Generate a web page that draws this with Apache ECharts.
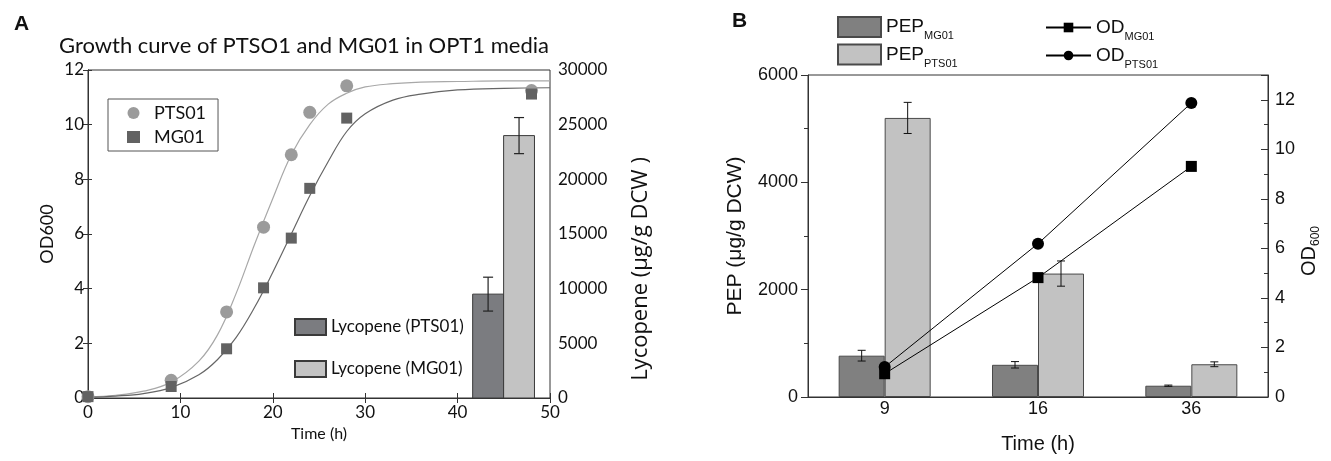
<!DOCTYPE html>
<html><head><meta charset="utf-8">
<script src="https://cdn.jsdelivr.net/npm/echarts@6/dist/echarts.min.js"></script>
<style>html,body{margin:0;padding:0;background:#fff}#c{width:1331px;height:461px}</style>
</head><body><div id="c"></div>
<script>
// ---------- Panel A data ----------
const growthTimes = [0, 9, 15, 19, 22, 24, 28, 48];
const odPTS01 = [0.05, 0.65, 3.15, 6.25, 8.9, 10.45, 11.42, 11.25];
const odMG01 = [0.05, 0.42, 1.8, 4.03, 5.85, 7.67, 10.24, 11.12];
const fitTimes = [0, 3, 6, 9, 12, 14, 16, 18, 20, 22, 24, 26, 28, 30, 33, 36, 40, 45, 50];
const fitPTS01 = [0.04, 0.1, 0.25, 0.58, 1.35, 2.3, 3.8, 5.6, 7.3, 8.9, 10.0, 10.75, 11.15, 11.38, 11.5, 11.56, 11.58, 11.6, 11.6];
const fitMG01 = [0.03, 0.07, 0.16, 0.38, 0.85, 1.4, 2.2, 3.3, 4.6, 6.0, 7.4, 8.65, 9.75, 10.4, 10.9, 11.12, 11.27, 11.33, 11.35];
const lycopeneNames = ['Lycopene (PTS01)', 'Lycopene (MG01)'];
const lycopeneTime = [43.3, 46.65];
const lycopeneValues = [9500, 24000];
const lycopeneErrors = [1550, 1650];

// ---------- Panel B data ----------
const pepTimes = ['9', '16', '36'];
const pepMG01 = [770, 600, 210];
const pepMG01Err = [100, 60, 12];
const pepPTS01 = [5200, 2300, 610];
const pepPTS01Err = [290, 235, 45];
const odBMG01 = [0.94, 4.82, 9.31];
const odBPTS01 = [1.21, 6.19, 11.87];

const FA = 'Lato';
const FB = 'Liberation Sans';
const axisCol = '#333';
const plain = v => String(v);

function pairs(xs, ys) { return xs.map((x, i) => [x, ys[i]]); }

function lycoRender(params, api) {
  const x = api.value(0), y = api.value(1), e = api.value(2);
  const halfW = 1.67;
  const p0 = api.coord([x - halfW, y]);
  const p1 = api.coord([x + halfW, 0]);
  const t = api.coord([x, y + e]);
  const b = api.coord([x, y - e]);
  const col = api.visual('color');
  return { type: 'group', children: [
    { type: 'rect', shape: { x: p0[0], y: p0[1], width: p1[0] - p0[0], height: p1[1] - p0[1] },
      style: { fill: col, stroke: '#3a3a3a', lineWidth: 1 } },
    { type: 'line', shape: { x1: t[0], y1: t[1], x2: b[0], y2: b[1] }, style: { stroke: '#222', lineWidth: 1.2 } },
    { type: 'line', shape: { x1: t[0] - 5, y1: t[1], x2: t[0] + 5, y2: t[1] }, style: { stroke: '#222', lineWidth: 1.2 } },
    { type: 'line', shape: { x1: b[0] - 5, y1: b[1], x2: b[0] + 5, y2: b[1] }, style: { stroke: '#222', lineWidth: 1.2 } }
  ]};
}

function errRender(side) {
  return function (params, api) {
    const i = api.value(0), y = api.value(1), e = api.value(2);
    const band = api.size([1, 0])[0];
    const c = api.coord([i, y]);
    const off = side * band * 0.15;
    const t = api.coord([i, y + e]);
    const b = api.coord([i, y - e]);
    const x = c[0] + off;
    return { type: 'group', children: [
      { type: 'line', shape: { x1: x, y1: t[1], x2: x, y2: b[1] }, style: { stroke: '#111', lineWidth: 1 } },
      { type: 'line', shape: { x1: x - 4, y1: t[1], x2: x + 4, y2: t[1] }, style: { stroke: '#111', lineWidth: 1 } },
      { type: 'line', shape: { x1: x - 4, y1: b[1], x2: x + 4, y2: b[1] }, style: { stroke: '#111', lineWidth: 1 } }
    ]};
  };
}

const chart = echarts.init(document.getElementById('c'), null, { renderer: 'canvas' });
const subRich = { sub: { fontSize: 11, fontFamily: FB, color: '#111', padding: [18, 0, 0, 0], verticalAlign: 'bottom' } };

chart.setOption({
  animation: false,
  backgroundColor: '#fff',
  title: [
    { text: 'A', left: 9, top: 9, textStyle: { fontFamily: FB, fontWeight: 'bold', fontSize: 21, color: '#111' } },
    { text: 'Growth curve of PTSO1 and MG01 in OPT1 media', left: 299, textAlign: 'center', top: 30,
      textStyle: { fontFamily: FA, fontWeight: 'normal', fontSize: 22, color: '#111' } },
    { text: 'B', left: 727, top: 6, textStyle: { fontFamily: FB, fontWeight: 'bold', fontSize: 21, color: '#111' } }
  ],
  grid: [
    { left: 88, right: 781, top: 70, bottom: 63, show: true, borderColor: axisCol, borderWidth: 1 },
    { left: 808, right: 63, top: 75, bottom: 64, show: true, borderColor: axisCol, borderWidth: 1 }
  ],
  legend: [
    { data: ['PTS01', 'MG01'], orient: 'vertical', left: 108, top: 99, padding: [5, 12, 5, 19],
      itemWidth: 13, itemHeight: 12, itemGap: 6, borderColor: '#555', borderWidth: 1,
      textStyle: { fontFamily: FA, fontSize: 18, color: '#111', padding: [0, 0, 0, 9] } },
    { data: lycopeneNames, orient: 'vertical', left: 294, top: 318, padding: 0, icon: 'rect',
      itemWidth: 31, itemHeight: 16, itemGap: 24,
      textStyle: { fontFamily: FA, fontSize: 17, color: '#111' } },
    { data: ['PEP_MG01', 'PEP_PTS01'], orient: 'vertical', left: 837, top: 16, padding: 0, icon: 'rect',
      itemWidth: 43, itemHeight: 20, itemGap: 2,
      formatter: n => n.split('_')[0] + '{sub|' + n.split('_')[1] + '}',
      textStyle: { fontFamily: FB, fontSize: 19, color: '#111', rich: subRich } },
    { data: ['OD_MG01', 'OD_PTS01'], orient: 'vertical', left: 1045, top: 18, padding: 0,
      itemWidth: 45, itemHeight: 12, itemGap: 4,
      formatter: n => n.split('_')[0] + '{sub|' + n.split('_')[1] + '}',
      textStyle: { fontFamily: FB, fontSize: 19, color: '#111', rich: subRich } }
  ],
  xAxis: [
    { type: 'value', gridIndex: 0, min: 0, max: 50, interval: 10,
      name: 'Time (h)', nameLocation: 'middle', nameGap: 27,
      nameTextStyle: { fontFamily: FA, fontSize: 16, color: '#111' },
      axisLine: { lineStyle: { color: axisCol } },
      axisTick: { inside: true, length: 5, lineStyle: { color: axisCol } },
      axisLabel: { fontFamily: FA, fontSize: 17, color: '#111', margin: 6, formatter: plain },
      splitLine: { show: false } },
    { type: 'category', gridIndex: 1, data: pepTimes,
      name: 'Time (h)', nameLocation: 'middle', nameGap: 37,
      nameTextStyle: { fontFamily: FB, fontSize: 20, color: '#111' },
      axisLine: { lineStyle: { color: axisCol } },
      axisTick: { alignWithLabel: true, length: 8, lineStyle: { color: axisCol } },
      axisLabel: { fontFamily: FB, fontSize: 18, color: '#111', margin: 3 } },
    { type: 'category', gridIndex: 1, data: pepTimes, position: 'bottom',
      axisLine: { show: false }, axisLabel: { show: false },
      axisTick: { length: 4, lineStyle: { color: axisCol } } },
    { type: 'value', gridIndex: 0, min: 0, max: 50, interval: 10, position: 'top',
      axisLine: { show: false }, axisLabel: { show: false },
      axisTick: { inside: true, length: 5, lineStyle: { color: axisCol } }, splitLine: { show: false } }
  ],
  yAxis: [
    { type: 'value', gridIndex: 0, min: 0, max: 12, interval: 2,
      name: 'OD600', nameLocation: 'middle', nameGap: 32, nameRotate: 90,
      nameTextStyle: { fontFamily: FA, fontSize: 18, color: '#111' },
      axisLine: { show: true, lineStyle: { color: axisCol } },
      axisTick: { show: true, inside: true, length: 4, lineStyle: { color: axisCol } },
      axisLabel: { fontFamily: FA, fontSize: 17, color: '#111', margin: 4, formatter: plain },
      splitLine: { show: false } },
    { type: 'value', gridIndex: 0, min: 0, max: 30000, interval: 5000, position: 'right',
      name: 'Lycopene (μg/g DCW )', nameLocation: 'middle', nameGap: 80, nameRotate: 90,
      nameTextStyle: { fontFamily: 'Open Sans', fontSize: 22, color: '#111', padding: [0, 70, 0, 0] },
      axisLine: { show: true, lineStyle: { color: axisCol } },
      axisTick: { show: true, inside: true, length: 5, lineStyle: { color: axisCol } },
      axisLabel: { fontFamily: FA, fontSize: 17, color: '#111', margin: 8, formatter: plain },
      splitLine: { show: false } },
    { type: 'value', gridIndex: 1, min: 0, max: 6000, interval: 2000,
      name: 'PEP (μg/g DCW)', nameLocation: 'middle', nameGap: 62, nameRotate: 90,
      nameTextStyle: { fontFamily: FB, fontSize: 21, color: '#111' },
      axisLine: { show: true, lineStyle: { color: axisCol } },
      axisTick: { show: true, length: 7, lineStyle: { color: axisCol } },
      minorTick: { show: true, splitNumber: 2, length: 4, lineStyle: { color: axisCol } },
      axisLabel: { fontFamily: FB, fontSize: 18, color: '#111', margin: 10, formatter: plain },
      splitLine: { show: false } },
    { type: 'value', gridIndex: 1, min: 0, max: 13, interval: 2, position: 'right',
      name: 'OD{sub|600}', nameLocation: 'middle', nameGap: 28, nameRotate: 90,
      nameTextStyle: { fontFamily: FB, fontSize: 20, color: '#111', padding: [0, 30, 0, 0],
        rich: { sub: { fontSize: 12, fontFamily: FB, color: '#111', padding: [14, 0, 0, 0], verticalAlign: 'bottom' } } },
      axisLine: { show: true, lineStyle: { color: axisCol } },
      axisTick: { show: true, inside: true, length: 7, lineStyle: { color: axisCol } },
      minorTick: { show: true, splitNumber: 2, length: 4, lineStyle: { color: axisCol } },
      axisLabel: { fontFamily: FB, fontSize: 18, color: '#111', margin: 7, showMaxLabel: false, formatter: plain },
      splitLine: { show: false } }
  ],
  series: [
    { name: 'PTS01 fit', type: 'line', xAxisIndex: 0, yAxisIndex: 0, data: pairs(fitTimes, fitPTS01),
      smooth: 0.4, showSymbol: false, lineStyle: { color: '#a8a8a8', width: 1.2 }, z: 3, silent: true },
    { name: 'MG01 fit', type: 'line', xAxisIndex: 0, yAxisIndex: 0, data: pairs(fitTimes, fitMG01),
      smooth: 0.4, showSymbol: false, lineStyle: { color: '#666', width: 1.2 }, z: 3, silent: true },
    { name: lycopeneNames[0], type: 'custom', xAxisIndex: 0, yAxisIndex: 1, renderItem: lycoRender,
      itemStyle: { color: '#7b7c80', borderColor: '#3a3a3a', borderWidth: 1 },
      data: [[lycopeneTime[0], lycopeneValues[0], lycopeneErrors[0]]], z: 2 },
    { name: lycopeneNames[1], type: 'custom', xAxisIndex: 0, yAxisIndex: 1, renderItem: lycoRender,
      itemStyle: { color: '#c3c3c3', borderColor: '#3a3a3a', borderWidth: 1 },
      data: [[lycopeneTime[1], lycopeneValues[1], lycopeneErrors[1]]], z: 2 },
    { name: 'PTS01', type: 'scatter', xAxisIndex: 0, yAxisIndex: 0, data: pairs(growthTimes, odPTS01),
      symbol: 'circle', symbolSize: 13, itemStyle: { color: '#9b9b9b', opacity: 1 }, z: 5 },
    { name: 'MG01', type: 'scatter', xAxisIndex: 0, yAxisIndex: 0, data: pairs(growthTimes, odMG01),
      symbol: 'rect', symbolSize: 11, itemStyle: { color: '#626262', opacity: 1 }, z: 6 },

    { name: 'PEP_MG01', type: 'bar', xAxisIndex: 1, yAxisIndex: 2, data: pepMG01, barWidth: '30%', barGap: '0%',
      itemStyle: { color: '#808080', borderColor: '#4a4a4a', borderWidth: 1 } },
    { name: 'PEP_PTS01', type: 'bar', xAxisIndex: 1, yAxisIndex: 2, data: pepPTS01, barWidth: '30%', barGap: '0%',
      itemStyle: { color: '#c2c2c2', borderColor: '#4a4a4a', borderWidth: 1 } },
    { name: 'errMG01', type: 'custom', xAxisIndex: 1, yAxisIndex: 2, renderItem: errRender(-1),
      data: pepMG01.map((v, i) => [i, v, pepMG01Err[i]]), z: 4 },
    { name: 'errPTS01', type: 'custom', xAxisIndex: 1, yAxisIndex: 2, renderItem: errRender(1),
      data: pepPTS01.map((v, i) => [i, v, pepPTS01Err[i]]), z: 4 },
    { name: 'OD_MG01', type: 'line', xAxisIndex: 1, yAxisIndex: 3, data: odBMG01,
      symbol: 'rect', symbolSize: 11, lineStyle: { color: '#000', width: 1 }, itemStyle: { color: '#000' }, z: 6 },
    { name: 'OD_PTS01', type: 'line', xAxisIndex: 1, yAxisIndex: 3, data: odBPTS01,
      symbol: 'circle', symbolSize: 12, lineStyle: { color: '#000', width: 1 }, itemStyle: { color: '#000' }, z: 6 }
  ]
});
</script></body></html>
